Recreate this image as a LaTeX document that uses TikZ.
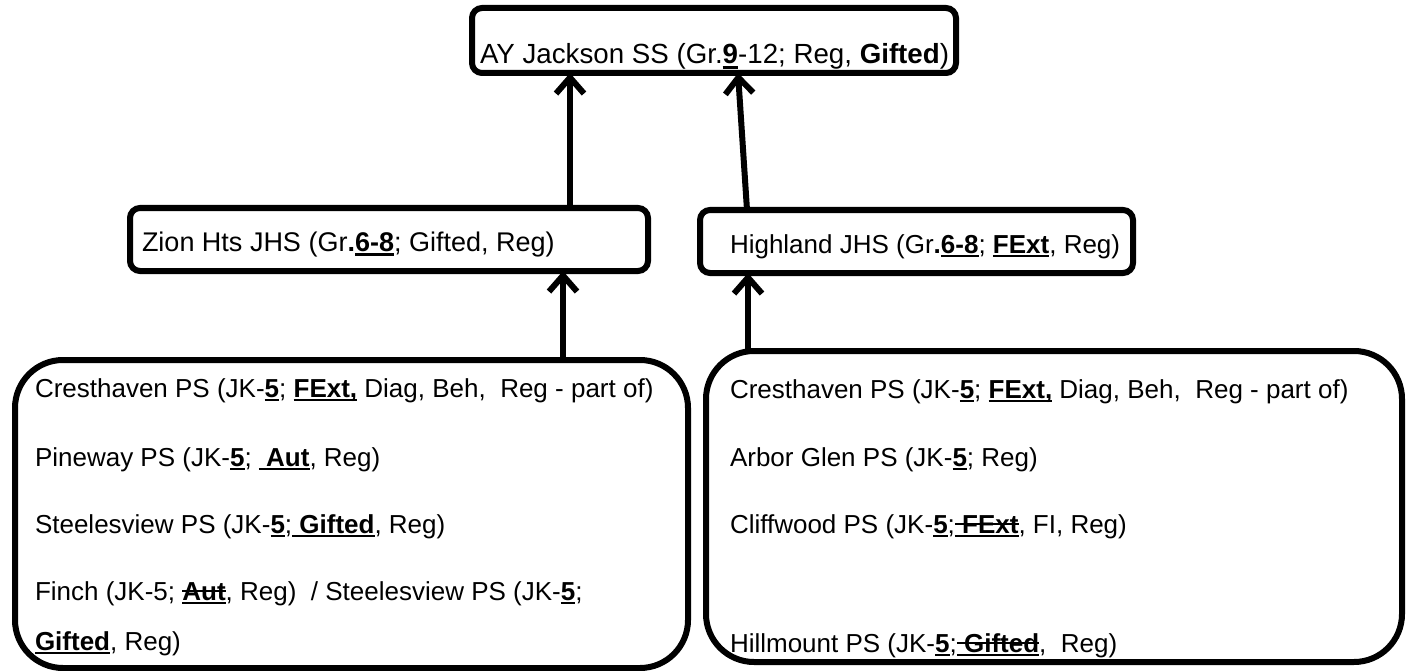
\documentclass[tikz,border=0pt]{standalone}
\usepackage{fontspec}
\setmainfont{Liberation Sans}
\usetikzlibrary{arrows.meta}
\newsavebox\myb
\newcommand\uln[1]{\sbox\myb{#1}\rlap{\rule[-0.17em]{\wd\myb}{0.08em}}\usebox\myb}
\newcommand\ulst[1]{\sbox\myb{#1}\rlap{\rule[-0.17em]{\wd\myb}{0.08em}}\rlap{\rule[0.3em]{\wd\myb}{0.08em}}\usebox\myb}
\begin{document}
\begin{tikzpicture}[x=1pt,y=-1pt,
  box/.style={draw=black,line width=6pt,fill=white,rounded corners=10pt,outer sep=0pt,inner sep=0pt,anchor=north west},
  bigbox/.style={box,rounded corners=48pt},
  txt/.style={anchor=base west,inner sep=0pt,outer sep=0pt,font=\fontsize{26}{30}\selectfont},
  arr/.style={line width=6pt,-{Straight Barb[length=16pt,width=28pt]}}]
\useasboundingbox (0,0) rectangle (1410,671);
% boxes
\node[box,minimum width=484pt,minimum height=65pt] (top) at (472,8) {};
\node[box,minimum width=518pt,minimum height=63pt] (zion) at (130,208) {};
\node[box,minimum width=433pt,minimum height=63pt] (high) at (700,210) {};
\node[bigbox,minimum width=673pt,minimum height=308pt] (lbox) at (15,360) {};
\node[bigbox,minimum width=696pt,minimum height=311pt] (rbox) at (706,351) {};
% texts
\node[txt,font=\fontsize{27.7}{32}\selectfont] (ttop) at (480,64) {AY Jackson SS (Gr.\textbf{\uln{9}}-12; Reg, \textbf{Gifted})};
\node[txt,font=\fontsize{27}{31}\selectfont] (tzion) at (142,251) {Zion Hts JHS (Gr\textbf{.\uln{6-8}}; Gifted, Reg)};
\node[txt] (thigh) at (730,253) {Highland JHS (Gr\textbf{.\uln{6-8}}; \textbf{\uln{FExt}}, Reg)};
\node[txt] (l1) at (35,397) {Cresthaven PS (JK-\textbf{\uln{5}}; \textbf{\uln{FExt,}} Diag, Beh,\ \ Reg - part of)};
\node[txt] (l2) at (35,466) {Pineway PS (JK-\textbf{\uln{5}}; \textbf{\uln{\ Aut}}, Reg)};
\node[txt] (l3) at (35,533) {Steelesview PS (JK-\textbf{\uln{5}};\textbf{\uln{\ Gifted}}, Reg)};
\node[txt] (l4) at (35,600) {Finch (JK-5; \textbf{\ulst{Aut}}, Reg)\ \ / Steelesview PS (JK-\textbf{\uln{5}};};
\node[txt] (l5) at (35,650) {\textbf{\uln{Gifted}}, Reg)};
\node[txt] (r1) at (730,398) {Cresthaven PS (JK-\textbf{\uln{5}}; \textbf{\uln{FExt,}} Diag, Beh,\ \ Reg - part of)};
\node[txt] (r2) at (730,466) {Arbor Glen PS (JK-\textbf{\uln{5}}; Reg)};
\node[txt] (r3) at (730,533) {Cliffwood PS (JK-\textbf{\uln{5}};\textbf{\ulst{\ FExt}}, FI, Reg)};
\node[txt] (r4) at (730,652) {Hillmount PS (JK-\textbf{\uln{5}};\textbf{\ulst{\ Gifted}},\ \ Reg)};
% connector coordinates
\coordinate (xa) at (570,0);
\coordinate (xb1) at (747,0);
\coordinate (xb2) at (738,0);
\coordinate (xc) at (563,0);
\coordinate (xd) at (748,0);
\draw[arr] (xa |- zion.north) -- (xa |- top.south);
\draw[arr] (xb1 |- high.north) -- (xb2 |- top.south);
\draw[arr] (xc |- lbox.north) -- (xc |- zion.south);
\draw[arr] (xd |- rbox.north) -- (xd |- high.south);
\end{tikzpicture}
\end{document}
